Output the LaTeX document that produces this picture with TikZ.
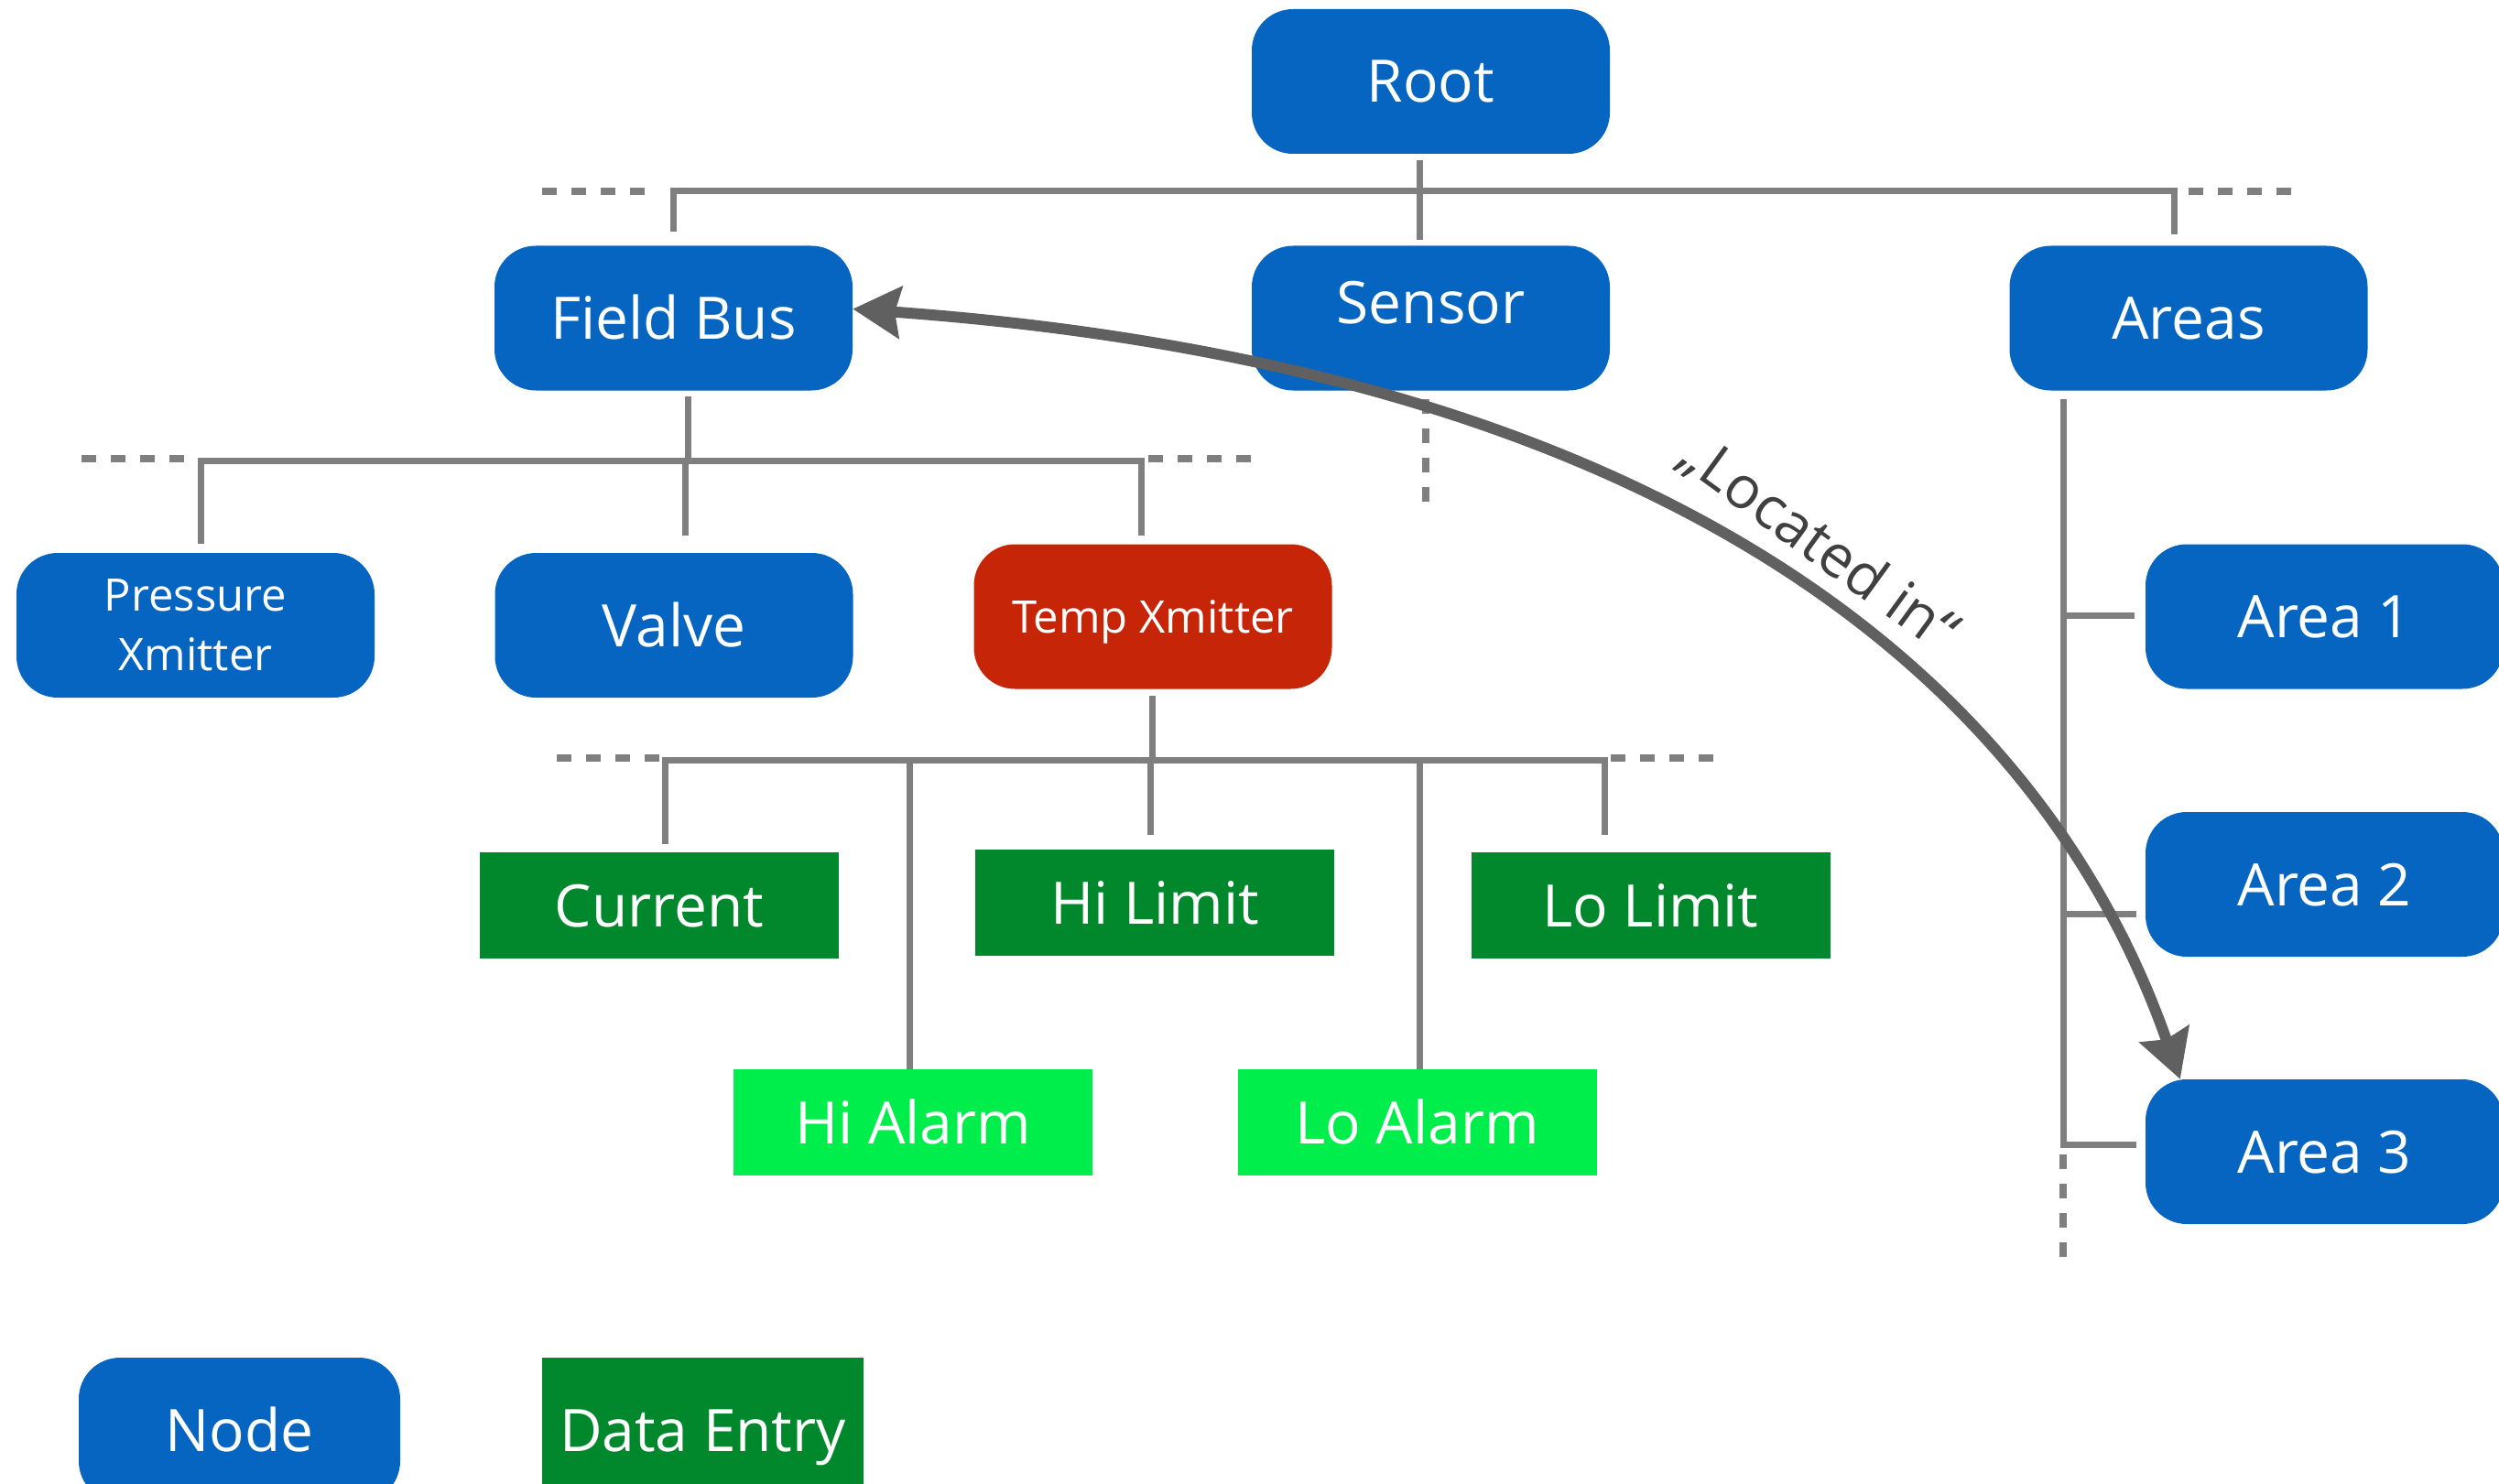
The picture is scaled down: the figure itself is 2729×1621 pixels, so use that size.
\documentclass[tikz,border=0pt]{standalone}
\usepackage{fontspec}
\setmainfont{Open Sans}
\usetikzlibrary{arrows.meta}
\definecolor{nblue}{HTML}{0565C0}
\definecolor{dgreen}{HTML}{02882C}
\definecolor{lgreen}{HTML}{00EE4C}
\definecolor{tred}{HTML}{C62507}
\definecolor{lgray}{HTML}{7F7F7F}
\definecolor{agray}{HTML}{606060}
\definecolor{tgray}{HTML}{404040}
\tikzset{
  bigfont/.style={font=\fontsize{64}{77}\selectfont},
  smallfont/.style={font=\fontsize{49}{65}\selectfont},
  nodebox/.style={fill=nblue, text=white, rounded corners=45pt, minimum width=391pt, minimum height=158pt, inner sep=0pt, draw=none, bigfont, text height=46pt, text depth=0pt},
  databox/.style={fill=dgreen, text=white, minimum width=392pt, minimum height=116pt, inner sep=0pt, draw=none, bigfont, text height=46pt, text depth=0pt},
  conn/.style={draw=lgray, line width=7pt},
  dots/.style={draw=lgray, line width=8pt, dash pattern=on 16pt off 16pt},
  relarrow/.style={draw=agray, line width=12pt, {Stealth[length=52pt,width=56pt,inset=6pt]}-{Stealth[length=52pt,width=56pt,inset=6pt]}},
}
\begin{document}
\begin{tikzpicture}[x=1pt,y=-1pt]
\useasboundingbox (0,0) rectangle (2729,1621);

% tree nodes
\node[nodebox] (root) at (1562.5,89) {Root};
\node[nodebox] (fb) at (735.5,347.5) {Field Bus};
\node[nodebox] (sensor) at (1562.5,347.5) {\raisebox{17pt}{Sensor}};
\node[nodebox] (areas) at (2390,347.5) {Areas};
\node[nodebox, smallfont, text height=, text depth=, align=center] (pressure) at (213.5,683) {Pressure\\Xmitter};
\node[nodebox] (valve) at (736,683) {Valve};
\node[nodebox, fill=tred, smallfont, text height=35pt] (temp) at (1259,673.5) {Temp Xmitter};
\node[nodebox] (a1) at (2538.5,673.5) {Area 1};
\node[nodebox] (a2) at (2538.5,966) {Area 2};
\node[nodebox] (a3) at (2538.5,1258) {Area 3};

\node[databox] (current) at (720,989) {Current};
\node[databox] (hilimit) at (1261,986) {Hi Limit};
\node[databox] (lolimit) at (1802.5,989) {Lo Limit};
\node[databox, fill=lgreen] (hialarm) at (997,1226) {Hi Alarm};
\node[databox, fill=lgreen] (loalarm) at (1547.5,1226) {Lo Alarm};

% legend
\node[nodebox, minimum width=351pt] (lnode) at (261.5,1562) {Node};
\node[databox, minimum width=351pt, minimum height=158pt] (ldata) at (767.5,1562) {Data Entry};

% level 1 connectors
\coordinate (bus1) at (1550,209);
\draw[conn] ([xshift=-12.5pt,yshift=-7pt]root.south) -- ([xshift=-12.5pt,yshift=6pt]sensor.north);
\draw[conn] ([yshift=15pt]fb.north) |- (bus1) -| ([xshift=-16pt,yshift=12pt]areas.north);
\coordinate (d1l) at (592,209);
\coordinate (d1r) at (2390,209);
\draw[dots] (d1l) -- ++(113,0);
\draw[dots] (d1r) -- ++(113,0);
\draw[dots] ([xshift=-5.5pt,yshift=-9pt]sensor.south) -- ++(0,112);

% level 2 connectors
\coordinate (bus2) at (751,503);
\draw[conn] ([xshift=15.5pt,yshift=-6pt]fb.south) -- (bus2);
\draw[conn] ([xshift=5.5pt,yshift=10pt]pressure.north) |- (bus2) -| ([xshift=-13pt,yshift=9pt]temp.north);
\draw[conn] ([xshift=12pt,yshift=19pt]valve.north) coordinate (vtop) -- (vtop |- bus2);
\coordinate (d2l) at (89,501);
\coordinate (d2r) at (1254,501);
\draw[dots] (d2l) -- ++(113,0);
\draw[dots] (d2r) -- ++(113,0);

% level 3 connectors
\coordinate (bus3) at (1258,830);
\draw[conn] ([xshift=-1pt,yshift=-7pt]temp.south) -- (bus3);
\draw[conn] ([xshift=6pt,yshift=9pt]current.north) |- (bus3) -| ([xshift=-50.5pt,yshift=19pt]lolimit.north);
\draw[conn] ([xshift=-5pt,yshift=16pt]hilimit.north) coordinate (hltop) -- (hltop |- bus3);
\draw[conn] ([xshift=-4pt]hialarm.north) coordinate (hatop) -- (hatop |- bus3);
\draw[conn] ([xshift=2.5pt]loalarm.north) coordinate (latop) -- (latop |- bus3);
\coordinate (d3l) at (608,828);
\coordinate (d3r) at (1759,828);
\draw[dots] (d3l) -- ++(113,0);
\draw[dots] (d3r) -- ++(113,0);

% areas connectors
\coordinate (aline) at (2253,436);
\draw[conn] (aline) |- ([xshift=-10pt,yshift=8pt]a3.west);
\draw[conn] ([xshift=-12pt,yshift=1.5pt]a1.west) coordinate (a1b) -- (a1b -| aline);
\draw[conn] ([xshift=-10pt,yshift=-32pt]a2.west) coordinate (a2b) -- (a2b -| aline);
\coordinate (adots) at (2253,1261);
\draw[dots] (adots) -- ++(0,112);

% relation arrow
\draw[relarrow] ([yshift=10pt]fb.east) .. controls (1800,400) and (2223,728) .. ([xshift=38pt]a3.north west);
\node[text=tgray, bigfont, rotate=-36] (loc) at (1986,594) {„Located in“};
\end{tikzpicture}
\end{document}
